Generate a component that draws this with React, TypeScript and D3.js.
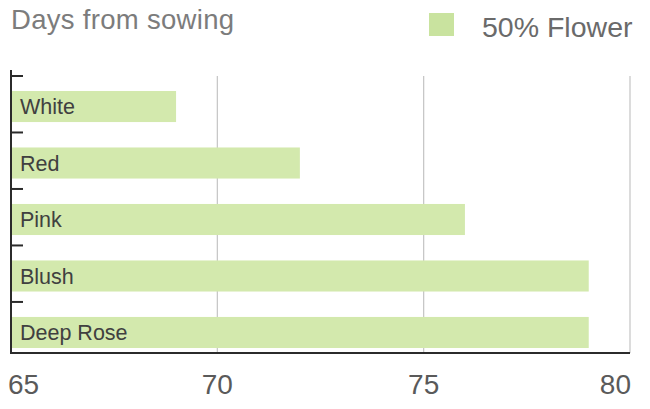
import React, { useEffect, useRef } from "react";
import * as d3 from "d3";

const varieties = ["White", "Red", "Pink", "Blush", "Deep Rose"];
const daysToFlower = [69, 72, 76, 79, 79];
const xTicks = [65, 70, 75, 80];
const seriesName = "50% Flower";
const axisTitle = "Days from sowing";

const width = 650;
const height = 409;

const App: React.FC = () => {
  const svgRef = useRef<SVGSVGElement>(null);

  useEffect(() => {
    if (!svgRef.current) return;
    const svg = d3.select(svgRef.current);
    svg.selectAll("*").remove();

    const margin = { top: 76, right: 20, bottom: 56, left: 11 };
    const axisY = height - margin.bottom;
    const x = d3.scaleLinear().domain([65, 80]).range([margin.left, width - margin.right]);
    const y = d3.scaleBand()
      .domain(varieties)
      .range([margin.top - 1, margin.top + 288])
      .paddingInner(0.45)
      .paddingOuter(0.283);

    const font = "'Liberation Sans', Arial, sans-serif";

    // gridlines
    svg.append("g")
      .selectAll("line")
      .data(xTicks.slice(1))
      .join("line")
      .attr("x1", d => x(d))
      .attr("x2", d => x(d))
      .attr("y1", margin.top)
      .attr("y2", axisY)
      .attr("stroke", "#c4c4c4")
      .attr("stroke-width", 1.2);

    // bars
    svg.append("g")
      .selectAll("rect")
      .data(varieties)
      .join("rect")
      .attr("x", x(65))
      .attr("y", d => y(d)!)
      .attr("width", (d, i) => x(daysToFlower[i]) - x(65))
      .attr("height", y.bandwidth())
      .attr("fill", "#d3e9ad");

    // bar labels
    svg.append("g")
      .selectAll("text")
      .data(varieties)
      .join("text")
      .attr("x", x(65) + 9)
      .attr("y", d => y(d)! + y.bandwidth() / 2)
      .attr("dy", "0.36em")
      .attr("font-family", font)
      .attr("font-size", 21.5)
      .attr("fill", "#404040")
      .text(d => d);

    // y axis line and category ticks
    const tickYs = varieties.map(d => y(d)! - 15);
    svg.append("line")
      .attr("x1", margin.left)
      .attr("x2", margin.left)
      .attr("y1", margin.top - 6)
      .attr("y2", axisY)
      .attr("stroke", "#2b2b2b")
      .attr("stroke-width", 2);
    svg.append("g")
      .selectAll("line")
      .data(tickYs)
      .join("line")
      .attr("x1", margin.left)
      .attr("x2", margin.left + 12)
      .attr("y1", d => d)
      .attr("y2", d => d)
      .attr("stroke", "#2b2b2b")
      .attr("stroke-width", 2);

    // x axis line
    svg.append("line")
      .attr("x1", margin.left - 1)
      .attr("x2", x(80))
      .attr("y1", axisY)
      .attr("y2", axisY)
      .attr("stroke", "#2b2b2b")
      .attr("stroke-width", 2);

    // x tick labels
    svg.append("g")
      .selectAll("text")
      .data(xTicks)
      .join("text")
      .attr("x", (d, i) => x(d) + (i === 0 ? -3 : i === xTicks.length - 1 ? 1 : 0))
      .attr("y", 394)
      .attr("text-anchor", (d, i) => (i === 0 ? "start" : i === xTicks.length - 1 ? "end" : "middle"))
      .attr("font-family", font)
      .attr("font-size", 28)
      .attr("fill", "#5a5a5a")
      .text(d => d);

    // title
    svg.append("text")
      .attr("x", 11)
      .attr("y", 29)
      .attr("font-family", font)
      .attr("font-size", 27.5)
      .attr("letter-spacing", 0.3)
      .attr("fill", "#7c7c7c")
      .text(axisTitle);

    // legend
    svg.append("rect")
      .attr("x", 429)
      .attr("y", 13)
      .attr("width", 25)
      .attr("height", 23)
      .attr("fill", "#c9e39f");
    svg.append("text")
      .attr("x", 482)
      .attr("y", 37)
      .attr("font-family", font)
      .attr("font-size", 28.5)
      .attr("fill", "#6a6a6a")
      .text(seriesName);
  }, []);

  return (
    <div style={{ margin: -8 }}>
      <svg ref={svgRef} width={width} height={height} style={{ display: "block", background: "#fff" }}></svg>
    </div>
  );
};

export default App;
